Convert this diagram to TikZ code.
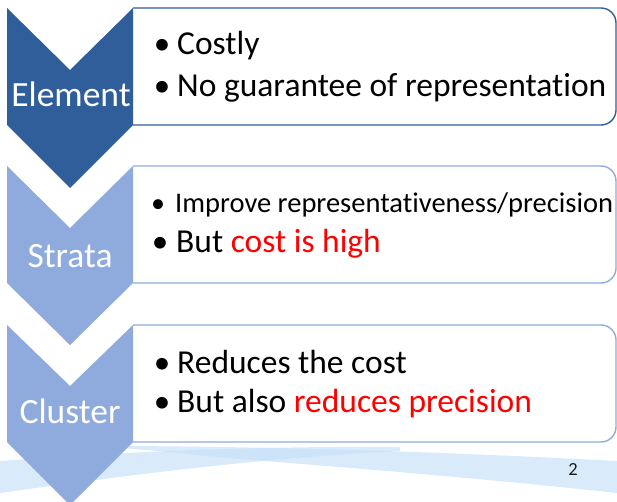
\documentclass[tikz,border=0pt]{standalone}
\usepackage{fontspec}
\setmainfont{Carlito}[Ligatures=NoCommon]
\begin{document}
\begin{tikzpicture}[x=1pt,y=-1pt,
  chevdark/.style={fill=chevDark,draw=none},
  chevlight/.style={fill=chevLight,draw=none},
  boxline/.style={line width=1.4pt,rounded corners=15pt},
  label/.style={text=white,font=\fontsize{35.5}{40}\selectfont,anchor=base,inner sep=0pt},
  bullet/.style={anchor=base,inner sep=0pt,font=\fontsize{33}{38}\selectfont},
  item/.style={anchor=base west,inner sep=0pt,font=\fontsize{33.5}{38}\selectfont},
  smallitem/.style={anchor=base west,inner sep=0pt,font=\fontsize{28.5}{32}\selectfont},
  band/.style={fill=swoosh,fill opacity=0.7}
]
\definecolor{chevDark}{HTML}{2F5E9B}
\definecolor{chevLight}{HTML}{8FAADC}
\definecolor{swoosh}{HTML}{C9E2F8}
\definecolor{pagenum}{HTML}{1A1A1A}

\useasboundingbox (0,0) rectangle (617,502);
\fill[white] (0,0) rectangle (617,502);

% background swooshes along the bottom edge
\fill[band] (0,461) .. controls (120,452) and (250,446) .. (400,447)
  -- (400,451) .. controls (260,458) and (120,476) .. (0,493) -- cycle;
\fill[band] (90,446) .. controls (300,446) and (480,454) .. (617,461)
  -- (617,493) .. controls (480,478) and (340,467) .. (240,459)
  .. controls (180,453) and (130,448) .. (90,446) -- cycle;

% text boxes with rounded right corners
\draw[boxline,draw=chevDark] (133,8) -- (616,8) -- (616,125) -- (133,125);
\draw[boxline,draw=chevLight] (133,166) -- (616,166) -- (616,283) -- (133,283);
\draw[boxline,draw=chevLight] (133,325) -- (616,325) -- (616,442) -- (133,442);

% chevrons
\fill[chevdark] (7,8) -- (70,70) -- (133,8) -- (133,125) -- (70,188) -- (7,125) -- cycle;
\fill[chevlight] (7,166) -- (70,228) -- (133,166) -- (133,283) -- (70,345) -- (7,283) -- cycle;
\fill[chevlight] (7,325) -- (70,386) -- (133,325) -- (133,442) -- (70,505) -- (7,442) -- cycle;

% chevron labels
\node[label] (lelem) at (71,107) {Element};
\node[label] (lstrata) at (70,267) {Strata};
\node[label] (lclust) at (70,423) {Cluster};

% element box
\node[bullet] (b1a) at (162,55) {•};
\node[item] (t1a) at (177,55) {Costly};
\node[bullet] (b1b) at (162,97) {•};
\node[item] (t1b) at (177,97) {No guarantee of representation};

% strata box
\node[bullet,font=\fontsize{28}{30}\selectfont] (b2a) at (158,213) {•};
\node[smallitem] (t2a) at (175,213) {Improve representativeness/precision};
\node[bullet] (b2b) at (160,252) {•};
\node[item] (t2b) at (176,252) {But \textcolor{red}{cost is high}};

% cluster box
\node[bullet] (b3a) at (162,373) {•};
\node[item] (t3a) at (177,373) {Reduces the cost};
\node[bullet] (b3b) at (162,412) {•};
\node[item] (t3b) at (177,412) {But also \textcolor{red}{reduces precision}};

% page number
\node[anchor=base,inner sep=0pt,text=pagenum,font=\fontsize{18.5}{20}\selectfont] (pnum) at (573,475) {2};
\end{tikzpicture}
\end{document}
